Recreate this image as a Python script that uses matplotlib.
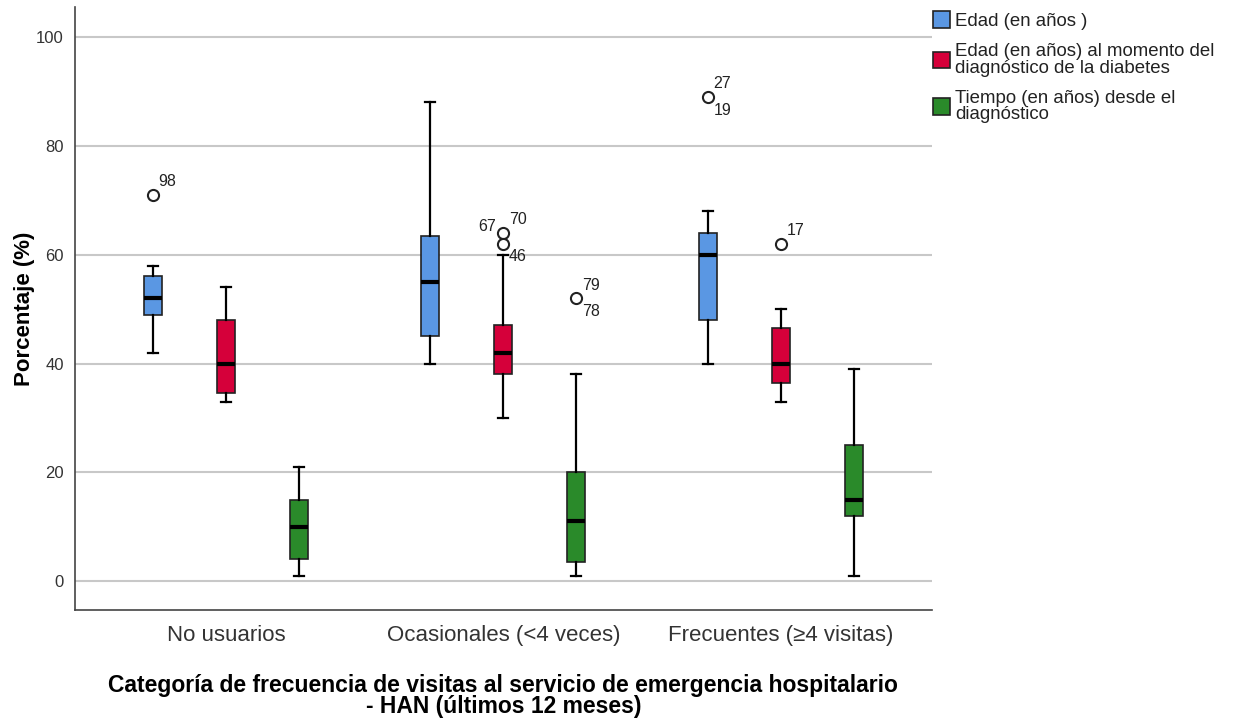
import matplotlib
matplotlib.use('Agg')
import matplotlib.pyplot as plt
from matplotlib.patches import Patch

plt.rcParams['font.family'] = ['Liberation Sans', 'DejaVu Sans']

categories = ['No usuarios', 'Ocasionales (<4 veces)', 'Frecuentes (\u22654 visitas)']
series = ['Edad (en años )',
          'Edad (en años) al momento del\ndiagnóstico de la diabetes',
          'Tiempo (en años) desde el\ndiagnóstico']
colors = ['#5A97E3', '#D5003A', '#2A8A2A']

# five-number summaries per series, one entry per category: (low, q1, med, q3, high)
edad = [(42, 49, 52, 56, 58), (40, 45, 55, 63.5, 88), (40, 48, 60, 64, 68)]
edad_dx = [(33, 34.5, 40, 48, 54), (30, 38, 42, 47, 60), (33, 36.5, 40, 46.5, 50)]
tiempo = [(1, 4, 10, 15, 21), (1, 3.5, 11, 20, 38), (1, 12, 15, 25, 39)]

# outliers: value and case labels (upper label, lower label)
edad_out = [[(71, '98', None)], [], [(89, '27', '19')]]
edad_dx_out = [[], [(64, '70', None), (62, None, '46')], [(62, '17', None)]]
tiempo_out = [[], [(52, '79', '78')], []]
extra_left = [(1, 1, 64, '67')]  # (series, category, value, label) placed left of the point

all_stats = [edad, edad_dx, tiempo]
all_out = [edad_out, edad_dx_out, tiempo_out]

fig = plt.figure(figsize=(12.38, 7.21), dpi=100)
ax = fig.add_axes([0.0606, 0.154, 0.692, 0.836])

offset = 0.263
width = 0.065
for s, (stats, outs) in enumerate(zip(all_stats, all_out)):
    bxp_stats = []
    positions = []
    for c, (lo, q1, med, q3, hi) in enumerate(stats):
        bxp_stats.append(dict(whislo=lo, q1=q1, med=med, q3=q3, whishi=hi,
                              fliers=[o[0] for o in outs[c]]))
        positions.append(c + 1 + (s - 1) * offset)
    ax.bxp(bxp_stats, positions=positions, widths=width, patch_artist=True,
           boxprops=dict(facecolor=colors[s], edgecolor='#222222', linewidth=1.2),
           medianprops=dict(color='black', linewidth=3),
           whiskerprops=dict(color='black', linewidth=1.6),
           capprops=dict(color='black', linewidth=1.6),
           capwidths=width * 0.55,
           flierprops=dict(marker='o', markersize=8, markerfacecolor='white',
                           markeredgecolor='#222222', markeredgewidth=1.5))
    for c, pts in enumerate(outs):
        x = c + 1 + (s - 1) * offset
        for val, up, down in pts:
            if up:
                ax.annotate(up, (x, val), xytext=(4, 4), textcoords='offset points',
                            fontsize=11.5, color='#222222', ha='left', va='bottom')
            if down:
                ax.annotate(down, (x, val), xytext=(4, -4), textcoords='offset points',
                            fontsize=11.5, color='#222222', ha='left', va='top')

for s, c, val, lab in extra_left:
    x = c + 1 + (s - 1) * offset
    ax.annotate(lab, (x, val), xytext=(-5, -1), textcoords='offset points',
                fontsize=11.5, color='#222222', ha='right', va='bottom')

ax.set_xlim(0.456, 3.544)
ax.set_ylim(-5.3, 105.5)
ax.set_yticks([0, 20, 40, 60, 80, 100])
ax.set_xticks([1, 2, 3])
ax.set_xticklabels(categories)
ax.yaxis.grid(True, color='#c8c8c8', linewidth=1.5)
ax.set_axisbelow(True)
ax.tick_params(axis='x', length=0, labelsize=16, colors='#333333', pad=11)
ax.tick_params(axis='y', length=0, labelsize=12, colors='#333333', pad=8)
for side in ['top', 'right']:
    ax.spines[side].set_visible(False)
for side in ['left', 'bottom']:
    ax.spines[side].set_color('#444444')
    ax.spines[side].set_linewidth(1.2)

ax.set_ylabel('Porcentaje (%)', fontsize=16, fontweight='bold', labelpad=1)
ax.set_xlabel('Categoría de frecuencia de visitas al servicio de emergencia hospitalario\n- HAN (últimos 12 meses)',
              fontsize=16.5, fontweight='bold', labelpad=20, linespacing=0.9)

handles = [Patch(facecolor=col, edgecolor='#222222', linewidth=1.2) for col in colors]
leg = ax.legend(handles, series, loc='upper left', bbox_to_anchor=(0.999, 0.996), frameon=False,
                fontsize=13.4, handlelength=0.95, handleheight=1.0, handletextpad=0.25,
                labelspacing=0.7, borderaxespad=0.0, borderpad=0.1, labelcolor='#222222')
for t in leg.get_texts():
    t.set_linespacing(0.95)

fig.savefig('out.png', dpi=100, facecolor='white')
